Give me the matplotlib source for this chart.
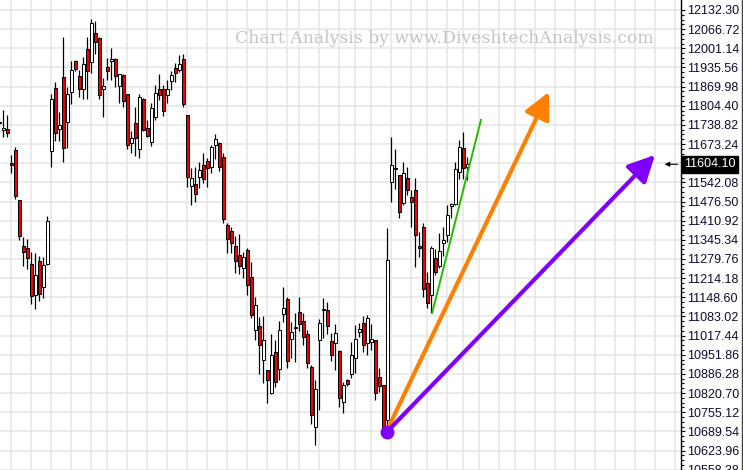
import numpy as np
import matplotlib
matplotlib.use('Agg')
import matplotlib.pyplot as plt
from matplotlib.ticker import FixedLocator, FixedFormatter

# daily OHLC (oldest first)
opens = [11746, 11723, 11724, 11609, 11653, 11482, 11324, 11316, 11262, 11155,
         11273, 11184, 11264, 11650, 11864, 11726, 11902, 11748, 11853, 11956,
         11906, 11863, 11998, 11953, 12053, 12038, 11863, 11937, 11959, 11963,
         11873, 11910, 11843, 11676, 11744, 11655, 11827, 11728, 11681, 11767,
         11861, 11861, 11840, 11890, 11933, 11927, 11963, 11773, 11531, 11536,
         11561, 11602, 11615, 11596, 11670, 11678, 11630, 11396, 11376, 11323,
         11293, 11248, 11310, 11217, 11036, 11050, 10934, 10899, 10820, 10961,
         10902, 11091, 11143, 11005, 11045, 11097, 11067, 11023, 10911, 10704,
         11002, 11105, 11105, 10999, 10991, 10965, 10791, 10865, 10886, 10940,
         11031, 11059, 10991, 10996, 11002, 10874, 10848, 10728, 11542, 11589,
         11567, 11470, 11556, 11491, 11516, 11324, 11388, 11196, 11156, 11282,
         11257, 11335, 11362, 11461, 11468, 11579, 11659, 11596]
highs = [11762, 11790, 11773, 11636, 11663, 11482, 11355, 11347, 11302, 11300,
         11289, 11288, 11427, 11845, 11887, 11784, 12039, 11868, 11958, 11961,
         11927, 11973, 12040, 12103, 12095, 12039, 11898, 11968, 12001, 11968,
         11913, 11914, 11845, 11718, 11800, 11845, 11831, 11756, 11813, 11874,
         11913, 11874, 11893, 11925, 11950, 11978, 11983, 11773, 11590, 11596,
         11613, 11642, 11624, 11670, 11708, 11681, 11642, 11402, 11388, 11360,
         11365, 11305, 11316, 11268, 11151, 11082, 11084, 10899, 11023, 11002,
         11067, 11184, 11151, 11064, 11095, 11151, 11095, 11036, 10917, 10866,
         11075, 11145, 11133, 11028, 11057, 10969, 10859, 10869, 10995, 11054,
         11059, 11084, 11089, 11057, 11002, 10905, 10848, 11385, 11698, 11655,
         11567, 11613, 11596, 11516, 11556, 11373, 11404, 11236, 11324, 11313,
         11368, 11390, 11465, 11470, 11613, 11687, 11716, 11630]
lows = [11735, 11698, 11698, 11573, 11484, 11346, 11256, 11247, 11127, 11110,
        11137, 11145, 11259, 11593, 11682, 11684, 11613, 11659, 11812, 11923,
        11835, 11829, 11828, 11918, 11982, 11827, 11767, 11893, 11893, 11869,
        11815, 11799, 11655, 11642, 11632, 11625, 11718, 11697, 11667, 11756,
        11824, 11768, 11813, 11858, 11887, 11921, 11799, 11525, 11465, 11476,
        11522, 11539, 11527, 11573, 11621, 11582, 11402, 11301, 11299, 11231,
        11228, 11214, 11156, 11077, 11002, 10886, 10854, 10785, 10817, 10842,
        10865, 11065, 10905, 10942, 10926, 11033, 10985, 10907, 10715, 10643,
        10763, 11009, 11023, 10929, 10899, 10774, 10751, 10846, 10871, 10888,
        11014, 10962, 10951, 10968, 10797, 10825, 10694, 10711, 11474, 11519,
        11419, 11465, 11499, 11390, 11253, 11287, 11151, 11111, 11096, 11225,
        11248, 11290, 11339, 11419, 11465, 11553, 11553, 11550]
closes = [11749, 11727, 11712, 11600, 11496, 11359, 11303, 11282, 11152, 11225,
          11159, 11259, 11410, 11828, 11710, 11738, 11659, 11844, 11927, 11929,
          11861, 11946, 11922, 12087, 12021, 11841, 11872, 11922, 11963, 11905,
          11912, 11822, 11670, 11694, 11693, 11833, 11723, 11701, 11796, 11847,
          11840, 11787, 11863, 11910, 11916, 11947, 11812, 11559, 11556, 11502,
          11584, 11553, 11590, 11664, 11691, 11596, 11417, 11347, 11333, 11272,
          11255, 11285, 11191, 11088, 11122, 10985, 11002, 10865, 10951, 10858,
          11036, 11111, 10929, 11031, 11048, 11056, 11013, 10922, 10745, 10833,
          11059, 11107, 11050, 10951, 11026, 10803, 10848, 10851, 10951, 11005,
          11039, 10985, 11077, 11005, 10820, 10845, 10705, 11276, 11602, 11591,
          11442, 11573, 11516, 11474, 11362, 11316, 11176, 11128, 11316, 11236,
          11307, 11345, 11430, 11468, 11587, 11662, 11590, 11604.10]

last_price = 11604.10
price_ticks = [12132.30, 12066.72, 12001.14, 11935.56, 11869.98, 11804.40,
               11738.82, 11673.24, 11607.66, 11542.08, 11476.50, 11410.92,
               11345.34, 11279.76, 11214.18, 11148.60, 11083.02, 11017.44,
               10951.86, 10886.28, 10820.70, 10755.12, 10689.54, 10623.96,
               10558.38]
# bar numbers where the date grid lines fall
date_grid = [3, 8, 13, 18, 23, 27, 32, 37, 42, 47, 52, 57, 62, 67, 72, 75,
             80, 85, 89, 93, 98, 103, 107, 112, 116, 120, 125, 129, 134, 139,
             144, 149, 154, 159, 164, 169]

# hand drawn trend lines: (bar, price) start -> end
green_line = [(108.2, 11095), (120.4, 11756)]
orange_arrow = [(97.2, 10701), (137.4, 11852)]
purple_arrow = [(96.9, 10688), (163.9, 11636)]

fig = plt.figure(figsize=(7.43, 4.70), dpi=100)
ax = fig.add_axes([0, 0, 681 / 743, 1])
ax.set_xlim(0.175, 170.4)
ax.set_ylim(10557.2, 12166.5)

for g in date_grid:
    ax.axvline(g, color='#e6e6e6', lw=1.1, zorder=0)
for t in price_ticks:
    ax.axhline(t, color='#e6e6e6', lw=1.1, zorder=0)

idx = np.arange(len(opens))
o = np.array(opens, dtype=float)
c = np.array(closes, dtype=float)
up = c >= o
ax.vlines(idx, lows, highs, color='black', lw=0.9, zorder=2)
ax.bar(idx, np.abs(c - o), bottom=np.minimum(o, c), width=0.72,
       color=np.where(up, 'white', '#ee0000'), edgecolor='black',
       linewidth=0.7, zorder=3)

(gx0, gy0), (gx1, gy1) = green_line
ax.plot([gx0, gx1], [gy0, gy1], color='#22bb00', lw=1.4, zorder=4)

for (x0, y0), (x1, y1), col in [(orange_arrow[0], orange_arrow[1], '#ff8000'),
                                (purple_arrow[0], purple_arrow[1], '#8000ff')]:
    ax.annotate('', xy=(x1, y1), xytext=(x0, y0),
                arrowprops=dict(arrowstyle='-|>,head_length=0.9,head_width=0.45',
                                color=col, lw=3, mutation_scale=18,
                                shrinkA=0, shrinkB=0),
                zorder=5)
ax.plot(purple_arrow[0][0], purple_arrow[0][1], 'o', color='#8000ff',
        ms=9, zorder=6)

# price axis on the right
for s in ['top', 'left', 'bottom']:
    ax.spines[s].set_visible(False)
ax.spines['right'].set_color('black')
ax.spines['right'].set_linewidth(1)
ax.set_xticks([])
ax.yaxis.tick_right()
ax.yaxis.set_major_locator(FixedLocator(price_ticks))
# the label under the current price box is covered in the original
labels = ['' if abs(t - last_price) < 20 else '%.2f' % t for t in price_ticks]
ax.yaxis.set_major_formatter(FixedFormatter(labels))
minor = [t - k * 65.58 / 4 for t in price_ticks for k in (1, 2, 3)]
ax.yaxis.set_minor_locator(FixedLocator(minor))
ax.tick_params(axis='y', which='major', length=3, width=0.8, pad=1.5,
               labelsize=9, labelcolor='#0c0c30')
ax.tick_params(axis='y', which='minor', length=1.8, width=0.8)
for lab in ax.get_yticklabels():
    lab.set_family('Liberation Sans')

# current price marker
ax.annotate('%.2f' % last_price, xy=(1.0, last_price),
            xycoords=('axes fraction', 'data'),
            xytext=(2.5, 0), textcoords='offset points',
            ha='left', va='center', fontsize=9, color='white',
            family='Liberation Sans',
            bbox=dict(boxstyle='square,pad=0.2', fc='black', ec='black'),
            zorder=10, annotation_clip=False)
ax.annotate('', xy=(0.976, last_price), xycoords=('axes fraction', 'data'),
            xytext=(0.995, last_price),
            arrowprops=dict(arrowstyle='-|>', color='black', lw=0.8,
                            mutation_scale=7, shrinkA=0, shrinkB=0))

ax.text(0.652, 0.919, 'Chart Analysis by www.DiveshtechAnalysis.com',
        transform=ax.transAxes, ha='center', va='center', fontsize=12.4,
        family='DejaVu Serif', color='#c4c4c4', zorder=1)

# thin frame line on the right edge of the image
fig.add_artist(plt.Line2D([0.9993, 0.9993], [0, 1], transform=fig.transFigure,
                          color='#404040', lw=1))

fig.savefig('out.png', dpi=100)
